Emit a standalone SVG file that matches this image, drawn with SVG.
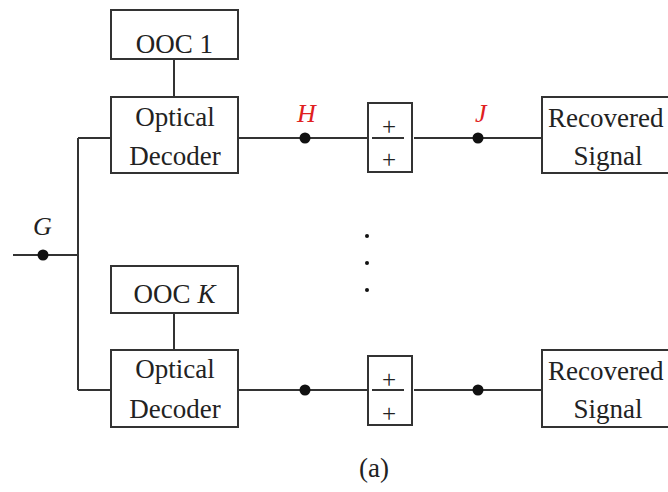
<svg xmlns="http://www.w3.org/2000/svg" width="668" height="492" viewBox="0 0 668 492">
<style>
.box{fill:#fff;stroke:#333;stroke-width:2}
.ln{fill:none;stroke:#333;stroke-width:2}
.dot{fill:#111}
text{font-family:"Liberation Serif","Times New Roman",serif;fill:#222}
.t{font-size:27px;text-anchor:middle}
.pl{font-size:25px;text-anchor:middle}
.lab{font-size:26px;font-style:italic}
.red{fill:#e02020}
</style>
<rect width="668" height="492" fill="#fff"/>
<g id="connectors">
<path class="ln" d="M13 255H78M78 138V390M78 138H111M78 390H111"/>
<path class="ln" d="M174 59V98M174 313V350"/>
<path class="ln" d="M238 138H368M414 138H542"/>
<path class="ln" d="M238 390H368M414 390H542"/>
<circle class="dot" cx="43" cy="255" r="5.5"/>
<circle class="dot" cx="305" cy="138" r="5.5"/>
<circle class="dot" cx="478" cy="138" r="5.5"/>
<circle class="dot" cx="305" cy="390" r="5.5"/>
<circle class="dot" cx="478" cy="390" r="5.5"/>
</g>
<g id="ooc1"><rect class="box" x="111" y="10" width="127" height="49"/><text class="t" x="174.5" y="53">OOC 1</text></g>
<g id="decoder1"><rect class="box" x="111" y="97" width="127" height="76"/><text class="t" x="175" y="126">Optical</text><text class="t" x="175" y="165">Decoder</text></g>
<g id="sum1"><rect class="box" x="368" y="103" width="44" height="69"/><path class="ln" d="M372 138H404"/><text class="pl" x="389" y="135">+</text><text class="pl" x="389" y="168">+</text></g>
<g id="recovered1"><rect class="box" x="542" y="97" width="140" height="76"/><text class="t" x="548" y="127" style="text-anchor:start">Recovered</text><text class="t" x="608" y="165">Signal</text></g>
<g id="oocK"><rect class="box" x="111" y="266" width="127" height="47"/><text class="t" x="174.5" y="303">OOC <tspan font-style="italic">K</tspan></text></g>
<g id="decoder2"><rect class="box" x="111" y="350" width="127" height="77"/><text class="t" x="175" y="378">Optical</text><text class="t" x="175" y="418">Decoder</text></g>
<g id="sum2"><rect class="box" x="368" y="356" width="44" height="69"/><path class="ln" d="M372 390H404"/><text class="pl" x="389" y="388">+</text><text class="pl" x="389" y="422">+</text></g>
<g id="recovered2"><rect class="box" x="542" y="350" width="140" height="77"/><text class="t" x="548" y="380" style="text-anchor:start">Recovered</text><text class="t" x="608" y="418">Signal</text></g>
<g id="labels">
<text class="lab" x="33" y="235">G</text>
<text class="lab red" x="297" y="122">H</text>
<text class="lab red" x="475" y="122">J</text>
<circle class="dot" cx="367" cy="236" r="2"/>
<circle class="dot" cx="367" cy="263" r="2"/>
<circle class="dot" cx="367" cy="290" r="2"/>
<text x="374" y="477" style="font-size:27px;text-anchor:middle">(a)</text>
</g>
</svg>
